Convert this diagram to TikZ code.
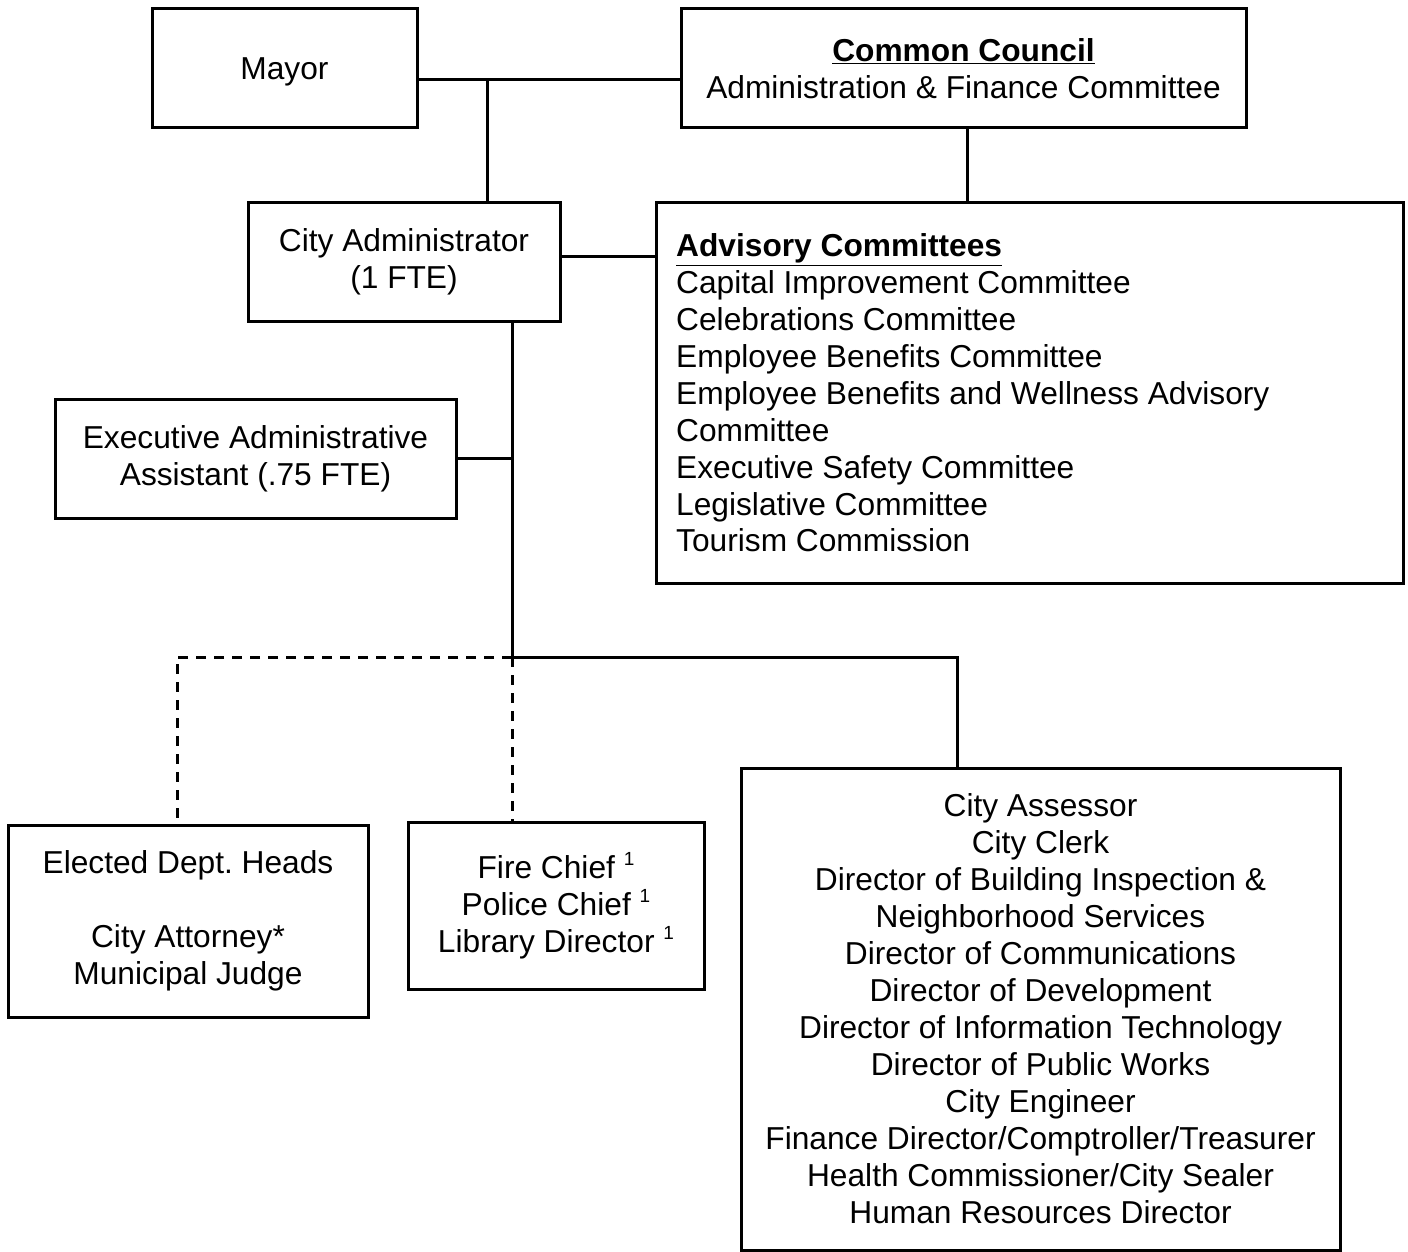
\documentclass[tikz,border=0pt]{standalone}
\usepackage{fontspec}
\setmainfont{Liberation Sans}
\newcommand{\supone}{\raisebox{0.75ex}{\fontsize{19}{19}\selectfont 1}}
\begin{document}
\begin{tikzpicture}[x=1pt,y=-1pt,
  box/.style={draw,line width=3pt,align=center,inner sep=0pt,
    font=\fontsize{31.7}{37}\selectfont},
  conn/.style={line width=3pt},
  dconn/.style={line width=3pt,dash pattern=on 10pt off 8pt}]
\useasboundingbox (0,0) rectangle (1408,1252);
\node[box,minimum width=265pt,minimum height=119pt,text depth=0pt] (mayor) at (284.5,68.5) {Mayor};
\node[box,minimum width=565pt,minimum height=119pt] (council) at (963.5,68.5)
  {\underline{\textbf{Common Council}}\\Administration \& Finance Committee};
\node[box,minimum width=312pt,minimum height=118pt] (admin) at (404,262)
  {City Administrator\\(1 FTE)};
\node[box,minimum width=747pt,minimum height=380pt] (advisory) at (1029.5,393) {};
\node[anchor=west,align=left,inner sep=0pt,font=\fontsize{31.7}{36.9}\selectfont] (advtext) at (676,393)
  {\underline{\textbf{Advisory Committees}}\\Capital Improvement Committee\\Celebrations Committee\\
   Employee Benefits Committee\\Employee Benefits and Wellness Advisory\\Committee\\
   Executive Safety Committee\\Legislative Committee\\Tourism Commission};
\node[box,minimum width=401pt,minimum height=119pt] (exec) at (255.5,458.5)
  {Executive Administrative\\Assistant (.75 FTE)};
\node[box,minimum width=360pt,minimum height=192pt] (elected) at (188,921)
  {Elected Dept.\ Heads\\[37pt]City Attorney*\\Municipal Judge};
\node[box,minimum width=296pt,minimum height=167pt] (fire) at (556,905.5)
  {Fire Chief \supone\\Police Chief \supone\\Library Director \supone};
\node[box,minimum width=599pt,minimum height=482pt] (dirs) at (1040.5,1009)
  {City Assessor\\City Clerk\\Director of Building Inspection \&\\Neighborhood Services\\
   Director of Communications\\Director of Development\\Director of Information Technology\\
   Director of Public Works\\City Engineer\\Finance Director/Comptroller/Treasurer\\
   Health Commissioner/City Sealer\\Human Resources Director};
\coordinate (j1) at (487,80);
\coordinate (trunk) at (512,657);
\coordinate (d1) at (957,657);
\coordinate (e1) at (177,657);
\draw[conn] (mayor.east |- j1) -- (council.west |- j1);
\draw[conn] (j1) -- (j1 |- admin.north);
\draw[conn] ([xshift=3.5pt]council.south) -- ([xshift=3.5pt]council.south |- advisory.north);
\draw[conn] ([yshift=6pt]admin.east) -- ([yshift=6pt]advisory.west |- admin.east);
\draw[conn] (admin.south -| trunk) -- (trunk);
\draw[conn] (exec.east) -- (exec.east -| trunk);
\draw[conn] (trunk) -- (d1) -- (d1 |- dirs.north);
\draw[dconn] (trunk) -- (e1) -- (e1 |- elected.north);
\draw[dconn] (trunk) -- (trunk |- fire.north);
\end{tikzpicture}
\end{document}
